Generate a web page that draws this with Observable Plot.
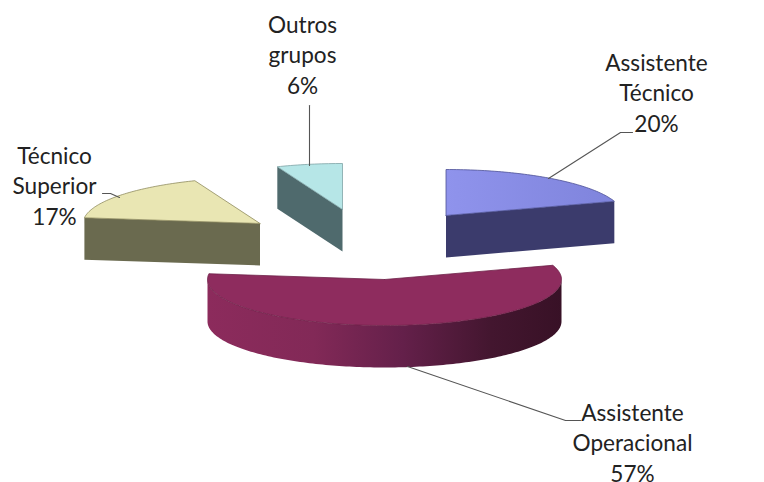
<!DOCTYPE html>
<html lang="pt">
<head>
<meta charset="utf-8">
<title>Distribuição por grupo profissional</title>
<script src="https://cdn.jsdelivr.net/npm/d3@7"></script>
<script src="https://cdn.jsdelivr.net/npm/@observablehq/plot@0.6"></script>
<style>
  html, body { margin: 0; padding: 0; background: #fff; }
  svg { display: block; }
</style>
</head>
<body>
<div id="chart"></div>
<script>
// Shares per professional group, clockwise from twelve o'clock.
const groups = ["Assistente\nTécnico", "Assistente\nOperacional", "Técnico\nSuperior", "Outros\ngrupos"];
const shares = [20, 57, 17, 6];

// Pie drawing parameters, in SVG units.
const radiusX = 177, radiusY = 46, thickness = 42;
const sliceCentres = [[445.5, 215], [384, 279], [259.5, 223], [342, 209]];
const topColours = ["url(#topBlue)", "#8e2c5e", "#e9e6b3", "#b6e6e7"];
const cutColours = ["#3b3b6c", null, "#6a6a4f", "#4f6a6d"];
const edgeColours = ["#4d5096", "#6d2148", "#8f8c5e", "#7fa3a6"];
const labelPositions = [[656, 93], [632, 443], [54, 186], [302, 55]];
const leaders = [
  [[548, 178], [620, 132], [632, 132]],
  [[407, 366], [565, 420], [580, 420]],
  [[119, 197], [110, 193], [102, 193]],
  [[309, 165], [309, 105]]
];

const arcs = d3.pie().sort(null).value(d => d)(shares);
const rim = (c, angle, drop = 0) => ({
  x: c[0] + radiusX * Math.sin(angle),
  y: c[1] - radiusY * Math.cos(angle) + drop
});
const sweep = (c, from, to, drop = 0) => {
  const steps = Math.max(2, Math.ceil(Math.abs(to - from) / 0.02));
  return d3.range(steps + 1).map(i => rim(c, from + (to - from) * i / steps, drop));
};
const apex = (c, drop = 0) => ({x: c[0], y: c[1] + drop});

const marks = [];

arcs.forEach((arc, i) => {
  const c = sliceCentres[i];

  // Cut face that turns towards the viewer.
  const cutAngle = i === 3 || i === 2 ? arc.startAngle : arc.endAngle;
  if (cutColours[i]) {
    const a = rim(c, cutAngle), b = rim(c, cutAngle, thickness);
    marks.push(Plot.line([apex(c), a, b, apex(c, thickness)], {x: "x", y: "y", fill: cutColours[i], stroke: "none"}));
  }

  // Curved outer wall on the front half of the ellipse.
  const from = Math.max(arc.startAngle, Math.PI / 2);
  const to = Math.min(arc.endAngle, 3 * Math.PI / 2);
  if (from < to) {
    marks.push(Plot.line([...sweep(c, from, to), ...sweep(c, to, from, thickness)], {
      x: "x", y: "y", fill: "url(#wallCrimson)", stroke: "none"
    }));
  }

  // Top face of the slice.
  marks.push(Plot.line([apex(c), ...sweep(c, arc.startAngle, arc.endAngle), apex(c)], {
    x: "x", y: "y", fill: topColours[i], stroke: edgeColours[i], strokeWidth: 0.8
  }));
});

// Leader lines from the slices to their labels.
leaders.forEach(points => marks.push(Plot.line(points, {x: d => d[0], y: d => d[1], stroke: "#555", strokeWidth: 1.1})));

// Category names with their percentage underneath.
marks.push(Plot.text(groups.map((g, i) => ({
  text: `${g}\n${shares[i]}%`, x: labelPositions[i][0], y: labelPositions[i][1]
})), {
  x: "x", y: "y", text: "text", fontSize: 22.6, lineHeight: 1.35, dy: -2,
  fontFamily: "Lato, 'Open Sans', sans-serif", fill: "#222", textAnchor: "middle", lineAnchor: "middle"
}));

const plot = Plot.plot({
  width: 764, height: 482, margin: 0,
  x: {domain: [0, 764], range: [0, 764], axis: null},
  y: {domain: [0, 482], range: [0, 482], axis: null},
  marks
});

// Shading for the blue top face and the crimson outer wall.
const defs = d3.select(plot).insert("defs", ":first-child");
const gradient = (id, x1, x2, stops) => {
  const g = defs.append("linearGradient").attr("id", id).attr("gradientUnits", "userSpaceOnUse")
    .attr("x1", x1).attr("x2", x2).attr("y1", 0).attr("y2", 0);
  stops.forEach(([offset, colour]) => g.append("stop").attr("offset", offset).attr("stop-color", colour));
};
gradient("topBlue", 446, 614, [[0, "#8f93ec"], [1, "#7f84dc"]]);
gradient("wallCrimson", 207, 562, [[0, "#8c2b5c"], [0.3, "#822957"], [0.55, "#64204a"], [0.8, "#43162f"], [1, "#381126"]]);

document.getElementById("chart").append(plot);
</script>
</body>
</html>
